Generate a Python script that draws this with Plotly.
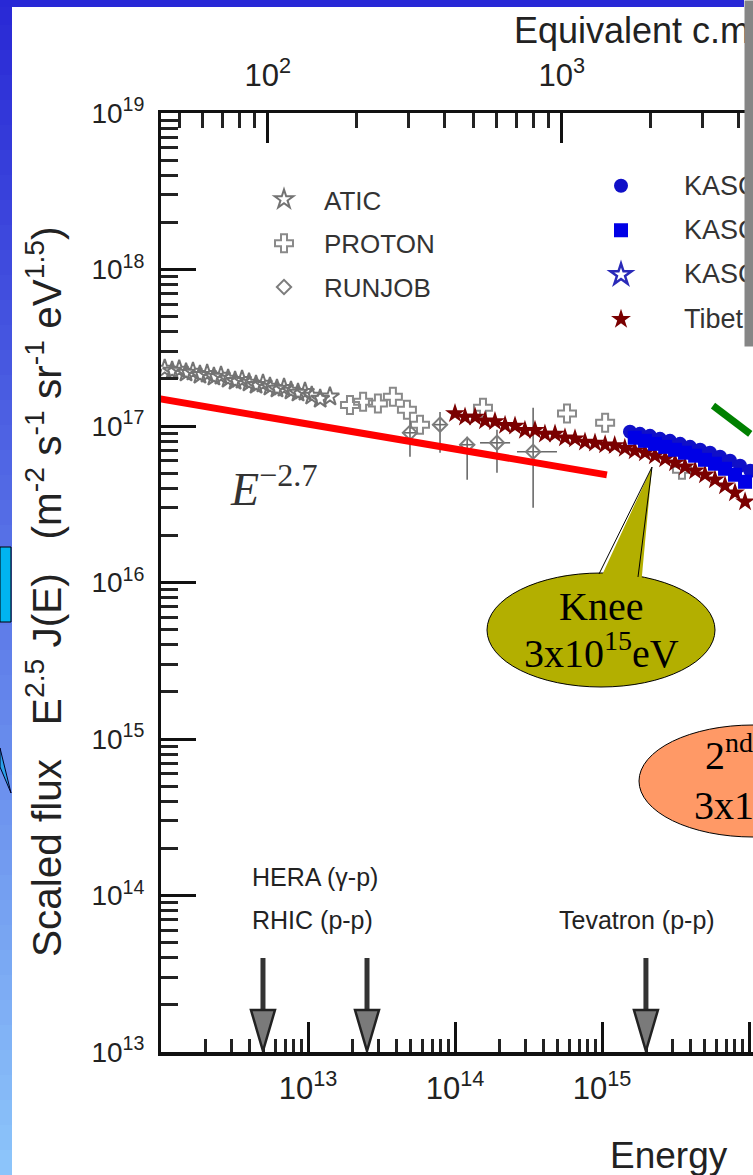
import math
import plotly.graph_objects as go

# ---------------- data ----------------
atic_E = [1.06e12, 1.19e12, 1.33e12, 1.48e12, 1.65e12, 1.84e12, 2.06e12, 2.29e12,
          2.56e12, 2.86e12, 3.19e12, 3.56e12, 3.97e12, 4.43e12, 4.94e12, 5.51e12,
          6.15e12, 6.87e12, 7.66e12, 8.55e12, 9.54e12, 1.06e13, 1.21e13, 1.41e13]
atic_F = [2.32e17, 2.25e17, 2.29e17, 2.19e17, 2.22e17, 2.12e17, 2.15e17, 2.06e17,
          2.09e17, 2.00e17, 1.94e17, 1.97e17, 1.89e17, 1.83e17, 1.86e17, 1.78e17,
          1.73e17, 1.75e17, 1.68e17, 1.63e17, 1.65e17, 1.56e17, 1.49e17, 1.54e17]

proton_E = [1.93e13, 2.37e13, 2.99e13, 3.78e13, 4.71e13, 5.78e13, 1.55e14, 5.78e14, 1.05e15, 3.50e15]
proton_F = [1.36e17, 1.43e17, 1.39e17, 1.54e17, 1.27e17, 1.02e17, 1.31e17, 1.20e17, 1.05e17, 5.25e16]

runjob_E = [4.94e13, 7.91e13, 1.21e14, 1.93e14, 3.40e14]
runjob_F = [9.05e16, 1.02e17, 7.59e16, 7.81e16, 6.84e16]
runjob_F_hi = [1.10e17, 1.23e17, 8.53e16, 9.46e16, 1.31e17]
runjob_F_lo = [6.36e16, 6.74e16, 4.53e16, 5.02e16, 3.00e16]
runjob_E_lo = [4.40e13, 7.00e13, 1.07e14, 1.48e14, 2.64e14]
runjob_E_hi = [5.50e13, 8.90e13, 1.37e14, 2.37e14, 4.94e14]

tibet_E = [1.00e14, 1.17e14, 1.37e14, 1.60e14, 1.87e14, 2.19e14, 2.56e14, 2.99e14,
           3.50e14, 4.09e14, 4.79e14, 5.60e14, 6.55e14, 7.66e14, 8.96e14, 1.05e15,
           1.22e15, 1.43e15, 1.67e15, 1.96e15, 2.29e15, 2.69e15, 3.14e15, 3.67e15,
           4.30e15, 5.02e15, 5.87e15, 6.87e15, 8.03e15, 9.40e15]
tibet_F = [1.20e17, 1.14e17, 1.14e17, 1.08e17, 1.07e17, 1.01e17, 1.00e17, 9.40e16,
           9.40e16, 8.90e16, 8.90e16, 8.40e16, 8.30e16, 7.90e16, 7.80e16, 7.60e16,
           7.50e16, 7.20e16, 6.95e16, 6.75e16, 6.46e16, 6.18e16, 5.82e16, 5.49e16,
           5.18e16, 4.88e16, 4.53e16, 4.15e16, 3.74e16, 3.28e16]

kas1_E = [1.55e15, 1.81e15, 2.12e15, 2.48e15, 2.90e15, 3.40e15, 3.97e15, 4.65e15,
          5.43e15, 6.35e15, 7.43e15, 8.69e15, 1.02e16]
kas1_F = [9.18e16, 8.91e16, 8.65e16, 8.28e16, 8.04e16, 7.69e16, 7.36e16, 7.05e16,
          6.75e16, 6.36e16, 6.00e16, 5.57e16, 5.18e16]

kas2_E = [1.67e15, 1.96e15, 2.29e15, 2.69e15, 3.14e15, 3.67e15, 4.30e15, 5.02e15,
          5.87e15, 6.87e15, 8.03e15, 9.40e15]
kas2_F = [8.41e16, 8.04e16, 7.69e16, 7.36e16, 7.05e16, 6.75e16, 6.46e16, 6.08e16,
          5.74e16, 5.33e16, 4.88e16, 4.40e16]

kas3_E = [None]   # no point of this series lies inside the cropped frame
kas3_F = [None]

line27_E = [9.1e11, 1.08e15]
line27_F = [1.51e17, 4.87e16]
green_E = [5.69e15, 1.02e16]
green_F = [1.35e17, 8.91e16]

collider_names = ["HERA", "RHIC", "Tevatron"]
collider_E = [4.94e12, 2.52e13, 1.99e15]

names_left = ["ATIC", "PROTON", "RUNJOB"]
names_right = ["KASCADE (QGSJet)", "KASCADE (SIBYLL)", "KASCADE-Grande", "Tibet"]

x_tickvals = [1e13, 1e14, 1e15, 1e16]
x_ticktext = ["10<sup>13</sup>", "10<sup>14</sup>", "10<sup>15</sup>", "10<sup>16</sup>"]
x_minor = [m * 10 ** k for k in range(12, 16) for m in range(2, 10)]
y_tickvals = [1e13, 1e14, 1e15, 1e16, 1e17, 1e18, 1e19]
y_ticktext = ["10<sup>%d</sup>" % k for k in range(13, 20)]
y_minor = [m * 10 ** k for k in range(13, 19) for m in range(2, 10)]
top_tickvals = [100, 1000]
top_ticktext = ["10<sup>2</sup>", "10<sup>3</sup>"]
top_minor = [50, 60, 70, 80, 90, 200, 300, 400, 500, 600, 700, 800, 900, 2000, 3000, 4000]

# ---------------- geometry ----------------
W, H = 753, 1175
L, R, T, B = 161, 753, 113, 1052
PX_PER_DEC_X = 147.0
XMIN = 12.0
XMAX = XMIN + (R - L) / PX_PER_DEC_X
MP_GEV = 0.938


def px(x):
    return (x - L) / (R - L)


def py(y):
    return (B - y) / (B - T)


def sqrt_s_log(logE):
    # log10 of sqrt(2 m_p E) in GeV
    return 0.5 * (logE - 9 + math.log10(2 * MP_GEV))


SANS = "Liberation Sans"
SERIF = "Liberation Serif"

fig = go.Figure()

fig.add_trace(go.Scatter(x=atic_E, y=atic_F, mode="markers", name=names_left[0],
                         legend="legend", legendgroup="g1", legendrank=1,
                         marker=dict(symbol="star-open", size=14, color="#737373",
                                     line=dict(width=2, color="#737373"))))
fig.add_trace(go.Scatter(x=proton_E, y=proton_F, mode="markers", name=names_left[1],
                         legend="legend", legendgroup="g2", legendrank=2,
                         marker=dict(symbol="cross-open", size=15, color="#8a8a8a",
                                     line=dict(width=2, color="#8a8a8a"))))
fig.add_trace(go.Scatter(
    x=runjob_E, y=runjob_F, mode="markers", name=names_left[2],
    legend="legend", legendgroup="g3", legendrank=3,
    marker=dict(symbol="diamond-open", size=11, color="#7d7d7d",
                line=dict(width=2, color="#7d7d7d")),
    error_y=dict(type="data", symmetric=False,
                 array=[h - f for h, f in zip(runjob_F_hi, runjob_F)],
                 arrayminus=[f - lo for f, lo in zip(runjob_F, runjob_F_lo)],
                 color="#6a6a6a", thickness=1.6, width=0),
    error_x=dict(type="data", symmetric=False,
                 array=[h - e for h, e in zip(runjob_E_hi, runjob_E)],
                 arrayminus=[e - lo for e, lo in zip(runjob_E, runjob_E_lo)],
                 color="#6a6a6a", thickness=1.6, width=0)))
fig.add_trace(go.Scatter(x=tibet_E, y=tibet_F, mode="markers", name=names_right[3],
                         legend="legend2", legendgroup="h4", legendrank=14,
                         marker=dict(symbol="star", size=15, color="#7a0000",
                                     line=dict(width=0))))
fig.add_trace(go.Scatter(x=kas1_E, y=kas1_F, mode="markers", name=names_right[0],
                         legend="legend2", legendgroup="h1", legendrank=11,
                         marker=dict(symbol="circle", size=14, color="#1010c8",
                                     line=dict(width=0))))
fig.add_trace(go.Scatter(x=kas2_E, y=kas2_F, mode="markers", name=names_right[1],
                         legend="legend2", legendgroup="h2", legendrank=12,
                         marker=dict(symbol="square", size=14, color="#0000e6",
                                     line=dict(width=0))))
fig.add_trace(go.Scatter(x=kas3_E, y=kas3_F, mode="markers", name=names_right[2],
                         legend="legend2", legendgroup="h3", legendrank=13,
                         marker=dict(symbol="star-open", size=16, color="#2a2ab8",
                                     line=dict(width=2.5, color="#2a2ab8"))))
fig.add_trace(go.Scatter(x=line27_E, y=line27_F, mode="lines", showlegend=False,
                         line=dict(color="#ff0000", width=7)))
fig.add_trace(go.Scatter(x=green_E, y=green_F, mode="lines", showlegend=False,
                         line=dict(color="#008000", width=7)))
# carrier for the top (c.m. energy) axis
fig.add_trace(go.Scatter(x=[], y=[], xaxis="x2", yaxis="y", showlegend=False,
                         mode="markers"))

axis_common = dict(showgrid=False, zeroline=False, showline=True, linecolor="#111",
                   ticks="inside", tickcolor="#111", tickwidth=3)

fig.update_layout(
    width=W, height=H,
    margin=dict(l=L, r=W - R, t=T, b=H - B, pad=0, autoexpand=False),
    paper_bgcolor="white", plot_bgcolor="white",
    font=dict(family=SANS, color="#222"),
    xaxis=dict(type="log", range=[XMIN, XMAX], tickmode="array",
               tickvals=x_tickvals, ticktext=x_ticktext, ticklen=30, linewidth=4,
               tickfont=dict(size=31, family=SANS, color="#222"),
               ticklabelstandoff=6,
               minor=dict(tickmode="array", tickvals=x_minor, ticks="inside",
                          ticklen=13, tickwidth=2.5, tickcolor="#222", showgrid=False),
               **axis_common),
    xaxis2=dict(type="log", overlaying="x", side="top", anchor="y",
                range=[sqrt_s_log(XMIN), sqrt_s_log(XMAX)], tickmode="array",
                tickvals=top_tickvals, ticktext=top_ticktext, ticklen=30, linewidth=3,
                tickfont=dict(size=31, family=SANS, color="#222"),
                ticklabelstandoff=12,
                minor=dict(tickmode="array", tickvals=top_minor, ticks="inside",
                           ticklen=15, tickwidth=2.5, tickcolor="#222", showgrid=False),
                **axis_common),
    yaxis=dict(type="log", range=[13, 19], tickmode="array",
               tickvals=y_tickvals, ticktext=y_ticktext, ticklen=35, linewidth=3,
               tickfont=dict(size=28, family=SANS, color="#222"),
               ticklabelstandoff=8,
               minor=dict(tickmode="array", tickvals=y_minor, ticks="inside",
                          ticklen=17, tickwidth=3, tickcolor="#222", showgrid=False),
               **axis_common),
    legend=dict(x=px(244), y=py(176), xanchor="left", yanchor="top",
                bgcolor="rgba(0,0,0,0)", borderwidth=0, itemwidth=70,
                traceorder="grouped", tracegroupgap=7, itemclick=False,
                font=dict(size=26, family=SANS, color="#333")),
    # the right legend's names are written as annotations (so the grey slide bar can cover them)
    legend2=dict(x=px(558), y=py(163), xanchor="left", yanchor="top",
                 bgcolor="rgba(0,0,0,0)", borderwidth=0, itemwidth=116,
                 traceorder="grouped", tracegroupgap=9, itemclick=False,
                 font=dict(size=25, family=SANS, color="rgba(0,0,0,0)")),
    showlegend=True,
)

shapes = []
# blue slide background strips
NB = 47
for i in range(NB):
    t = i / (NB - 1)
    r = int(42 + (140 - 42) * t)
    g = int(42 + (196 - 42) * t)
    b = int(214 + (250 - 214) * t)
    y0 = H * i / NB
    y1 = H * (i + 1) / NB + 0.5
    shapes.append(dict(type="rect", xref="paper", yref="paper", x0=px(0), x1=px(12),
                       y0=py(y1), y1=py(y0), fillcolor="rgb(%d,%d,%d)" % (r, g, b),
                       line=dict(width=0), layer="above"))
shapes.append(dict(type="rect", xref="paper", yref="paper", x0=px(0), x1=px(744),
                   y0=py(7), y1=py(0), fillcolor="#2828d6", line=dict(width=0), layer="above"))
# cyan callout pieces at the left edge
shapes.append(dict(type="rect", xref="paper", yref="paper", x0=px(0), x1=px(11),
                   y0=py(622), y1=py(547), fillcolor="#00b4f0",
                   line=dict(color="#000", width=1), layer="above"))
shapes.append(dict(type="path", xref="paper", yref="paper",
                   path="M %f,%f L %f,%f L %f,%f Z" % (px(0), py(748), px(11), py(793), px(0), py(767)),
                   fillcolor="#2aa0e8", line=dict(color="#002", width=1), layer="above"))
# Knee callout
shapes.append(dict(type="circle", xref="paper", yref="paper", x0=px(487), x1=px(715),
                   y0=py(687), y1=py(573), fillcolor="#b3af00",
                   line=dict(color="#000", width=1), layer="above"))
shapes.append(dict(type="path", xref="paper", yref="paper",
                   path="M %f,%f L %f,%f L %f,%f Z" % (px(597), py(586), px(641), py(586), px(652), py(467)),
                   fillcolor="#b3af00", line=dict(width=0), layer="above"))
for (xa, ya) in [(599, 574), (638, 577)]:
    shapes.append(dict(type="line", xref="paper", yref="paper", x0=px(xa), y0=py(ya),
                       x1=px(652), y1=py(467), line=dict(color="#000", width=1), layer="above"))
# 2nd knee callout
shapes.append(dict(type="circle", xref="paper", yref="paper", x0=px(639), x1=px(867),
                   y0=py(837), y1=py(725), fillcolor="#ff9966",
                   line=dict(color="#000", width=1), layer="above"))
# collider arrows
for E in collider_E:
    shapes.append(dict(type="path", xref="x", yref="y", xsizemode="pixel", ysizemode="pixel",
                       xanchor=E, yanchor=1e13,
                       path="M -2.5,40 L 2.5,40 L 2.5,94 L -2.5,94 Z",
                       fillcolor="#333", line=dict(width=0), layer="above"))
    shapes.append(dict(type="path", xref="x", yref="y", xsizemode="pixel", ysizemode="pixel",
                       xanchor=E, yanchor=1e13,
                       path="M -12,42 L 12,42 L 0,1 Z",
                       fillcolor="#7a7a7a", line=dict(color="#222", width=2.5), layer="above"))
fig.update_layout(shapes=shapes)

ann = []


def text(x, y, s, size, family=SANS, color="#222", xanchor="left", yanchor="middle", **kw):
    ann.append(dict(x=px(x), y=py(y), xref="paper", yref="paper", text=s, showarrow=False,
                    xanchor=xanchor, yanchor=yanchor,
                    font=dict(size=size, family=family, color=color), **kw))


NB_SP = "\u00a0"
text(44, 592, "Scaled flux" + NB_SP * 3 + "E<sup>2.5</sup>" + NB_SP + "J(E)" + NB_SP * 3 +
     "(m<sup>-2</sup> s<sup>-1</sup> sr<sup>-1</sup> eV<sup>1.5</sup>)", 40.5,
     xanchor="center", textangle=-90)
text(608, 1155, "Energy", 37)
text(512, 33, "Equivalent c.m. energy \u221as<sub>pp</sub> (GeV)", 36)
text(228, 486, "<i>E</i><sup>\u22122.7</sup>", 46, family=SERIF, color="#333")
text(601, 606, "Knee", 40, family=SERIF, color="#000", xanchor="center")
text(601, 650, "3x10<sup>15</sup>eV", 40, family=SERIF, color="#000", xanchor="center")
text(703, 752, "2<sup>nd</sup> Knee", 40, family=SERIF, color="#000")
text(692, 802, "3x10<sup>17</sup>eV", 40, family=SERIF, color="#000")
text(250, 877, "HERA (\u03b3-p)", 25)
text(250, 920, "RHIC (p-p)", 25)
text(557, 920, "Tevatron (p-p)", 25)
for nm, yy in zip(names_right, [186, 230, 274, 319]):
    text(682, yy, nm, 27, color="#333")
# grey slide bar at the right edge (drawn last so it covers the texts)
ann.append(dict(x=px(744), y=py(0), xref="paper", yref="paper", text="|", showarrow=False,
                xanchor="left", yanchor="top", width=9, height=345, borderpad=0,
                bgcolor="#858585", font=dict(size=10, color="#858585")))
fig.update_layout(annotations=ann)

fig.write_html("out.html", config={"displayModeBar": False},
               post_script="document.body.style.margin='0';")
